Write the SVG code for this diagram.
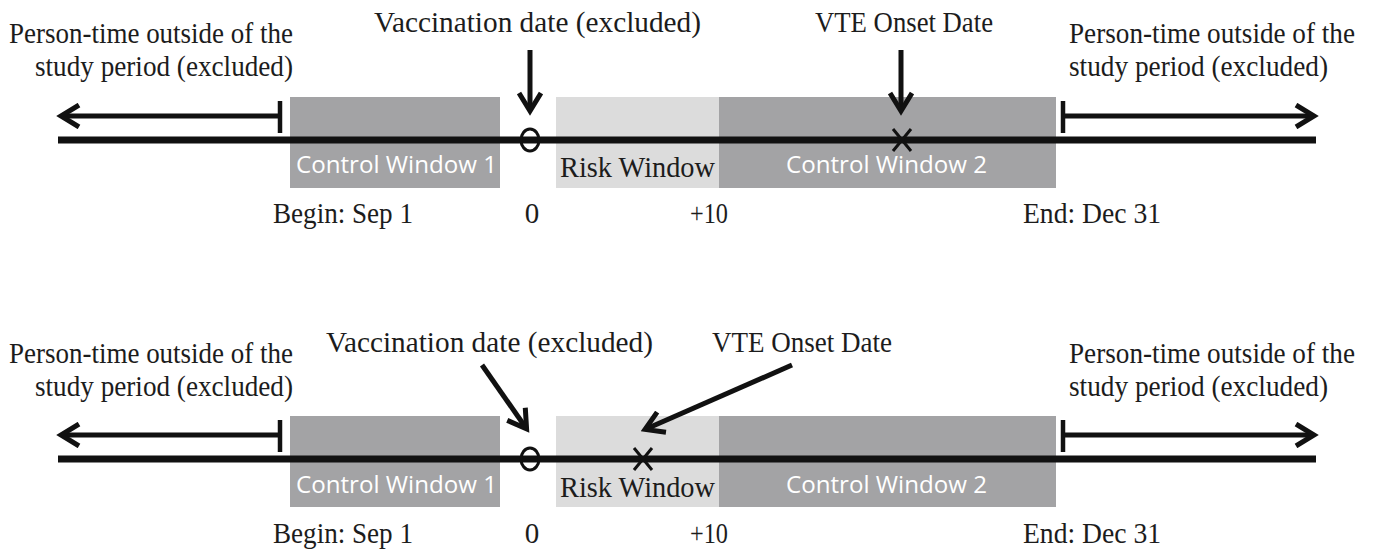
<svg xmlns="http://www.w3.org/2000/svg" width="1373" height="550" viewBox="0 0 1373 550">
<defs>
<style>
.lbl{font-family:"Liberation Serif","Times New Roman",serif;font-size:29px;fill:#1c1c1c}
.win{font-family:"Open Sans","Liberation Sans",sans-serif;font-size:24px;fill:#ffffff}
.dark{fill:#a3a3a5}
.light{fill:#dcdcdc}
.axis{stroke:#111;stroke-width:7;fill:none}
.arr{stroke:#111;stroke-width:5;fill:none;marker-end:url(#head)}
.bar{stroke:#111;stroke-width:4.5;fill:none}
.mark{stroke:#111;stroke-width:3;fill:none}
</style>
<marker id="head" viewBox="0 0 26 26" refX="20" refY="13" markerWidth="26" markerHeight="26" markerUnits="userSpaceOnUse" orient="auto">
<path d="M3,2 L21,13 L3,24" fill="none" stroke="#111" stroke-width="5" stroke-linejoin="miter"/>
</marker>
</defs>
<rect width="1373" height="550" fill="#ffffff"/>

<!-- ===== Top panel ===== -->
<g id="top-control1">
<rect class="dark" x="290" y="97" width="210" height="91"/>
<text class="win" x="296" y="173" textLength="201" lengthAdjust="spacingAndGlyphs">Control Window 1</text>
</g>
<g id="top-risk">
<rect class="light" x="556" y="97" width="163" height="91"/>
<text class="lbl" x="560" y="177" textLength="155" lengthAdjust="spacingAndGlyphs">Risk Window</text>
</g>
<g id="top-control2">
<rect class="dark" x="719" y="97" width="337" height="91"/>
<text class="win" x="786" y="173" textLength="201" lengthAdjust="spacingAndGlyphs">Control Window 2</text>
</g>
<g id="top-left-label">
<text class="lbl" x="293" y="43" text-anchor="end" textLength="284" lengthAdjust="spacingAndGlyphs">Person-time outside of the</text>
<text class="lbl" x="293" y="76" text-anchor="end" textLength="258" lengthAdjust="spacingAndGlyphs">study period (excluded)</text>
</g>
<g id="top-right-label">
<text class="lbl" x="1069" y="43" textLength="286" lengthAdjust="spacingAndGlyphs">Person-time outside of the</text>
<text class="lbl" x="1069" y="76" textLength="259" lengthAdjust="spacingAndGlyphs">study period (excluded)</text>
</g>
<g id="top-vacc-label">
<text class="lbl" x="374" y="32" textLength="327" lengthAdjust="spacingAndGlyphs">Vaccination date (excluded)</text>
</g>
<g id="top-vte-label">
<text class="lbl" x="815" y="32" textLength="178" lengthAdjust="spacingAndGlyphs">VTE Onset Date</text>
</g>
<g id="top-ticks">
<text class="lbl" x="273" y="223" textLength="140" lengthAdjust="spacingAndGlyphs">Begin: Sep 1</text>
<text class="lbl" x="532" y="223" text-anchor="middle">0</text>
<text class="lbl" x="709" y="223" text-anchor="middle" textLength="38" lengthAdjust="spacingAndGlyphs">+10</text>
<text class="lbl" x="1023" y="223" textLength="138" lengthAdjust="spacingAndGlyphs">End: Dec 31</text>
</g>
<g id="top-connectors">
<line class="axis" x1="58" y1="140" x2="1316" y2="140"/>
<line class="bar" x1="280" y1="101" x2="280" y2="133"/>
<line class="arr" x1="280" y1="116" x2="62" y2="116"/>
<line class="bar" x1="1063" y1="101" x2="1063" y2="133"/>
<line class="arr" x1="1063" y1="116" x2="1313" y2="116"/>
<line class="arr" x1="530" y1="50" x2="530" y2="110"/>
<line class="arr" x1="901" y1="50" x2="901" y2="110"/>
<ellipse class="mark" cx="530" cy="140" rx="9" ry="11"/>
<path class="mark" d="M893,129 L911,151 M911,129 L893,151"/>
</g>

<!-- ===== Bottom panel ===== -->
<g id="bot-control1">
<rect class="dark" x="290" y="416" width="210" height="91"/>
<text class="win" x="296" y="493" textLength="201" lengthAdjust="spacingAndGlyphs">Control Window 1</text>
</g>
<g id="bot-risk">
<rect class="light" x="556" y="416" width="163" height="91"/>
<text class="lbl" x="560" y="497" textLength="155" lengthAdjust="spacingAndGlyphs">Risk Window</text>
</g>
<g id="bot-control2">
<rect class="dark" x="719" y="416" width="337" height="91"/>
<text class="win" x="786" y="493" textLength="201" lengthAdjust="spacingAndGlyphs">Control Window 2</text>
</g>
<g id="bot-left-label">
<text class="lbl" x="293" y="363" text-anchor="end" textLength="284" lengthAdjust="spacingAndGlyphs">Person-time outside of the</text>
<text class="lbl" x="293" y="396" text-anchor="end" textLength="258" lengthAdjust="spacingAndGlyphs">study period (excluded)</text>
</g>
<g id="bot-right-label">
<text class="lbl" x="1069" y="363" textLength="286" lengthAdjust="spacingAndGlyphs">Person-time outside of the</text>
<text class="lbl" x="1069" y="396" textLength="259" lengthAdjust="spacingAndGlyphs">study period (excluded)</text>
</g>
<g id="bot-vacc-label">
<text class="lbl" x="326" y="352" textLength="327" lengthAdjust="spacingAndGlyphs">Vaccination date (excluded)</text>
</g>
<g id="bot-vte-label">
<text class="lbl" x="712" y="352" textLength="180" lengthAdjust="spacingAndGlyphs">VTE Onset Date</text>
</g>
<g id="bot-ticks">
<text class="lbl" x="273" y="543" textLength="140" lengthAdjust="spacingAndGlyphs">Begin: Sep 1</text>
<text class="lbl" x="532" y="543" text-anchor="middle">0</text>
<text class="lbl" x="709" y="543" text-anchor="middle" textLength="38" lengthAdjust="spacingAndGlyphs">+10</text>
<text class="lbl" x="1023" y="543" textLength="138" lengthAdjust="spacingAndGlyphs">End: Dec 31</text>
</g>
<g id="bot-connectors">
<line class="axis" x1="58" y1="459" x2="1316" y2="459"/>
<line class="bar" x1="280" y1="420" x2="280" y2="452"/>
<line class="arr" x1="280" y1="435" x2="62" y2="435"/>
<line class="bar" x1="1063" y1="420" x2="1063" y2="452"/>
<line class="arr" x1="1063" y1="435" x2="1313" y2="435"/>
<line class="arr" x1="482" y1="365" x2="526" y2="428"/>
<line class="arr" x1="792" y1="365" x2="646" y2="429"/>
<ellipse class="mark" cx="530" cy="459" rx="9" ry="11"/>
<path class="mark" d="M634,448 L652,470 M652,448 L634,470"/>
</g>
</svg>
